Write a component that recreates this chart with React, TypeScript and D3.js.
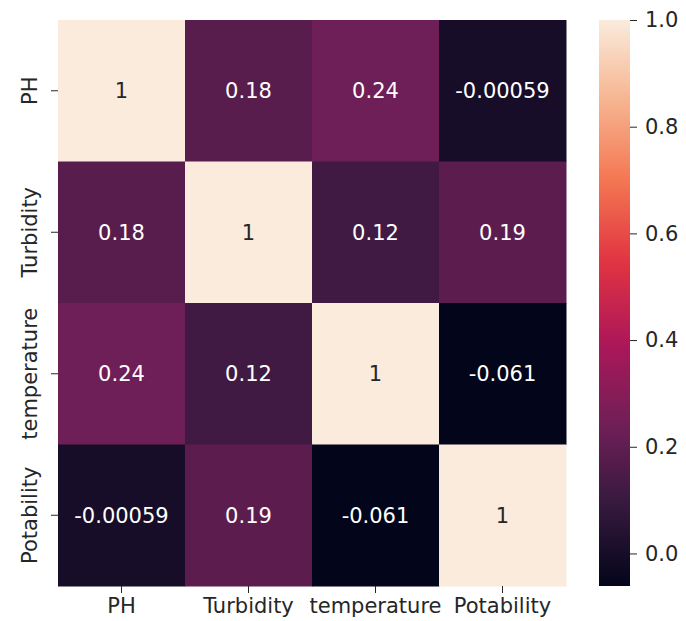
import React, { useRef, useEffect } from 'react';
import * as d3 from 'd3';

// variables in the correlation matrix
const labels = ['PH', 'Turbidity', 'temperature', 'Potability'];

// one row per variable
const rowPH = [1, 0.18, 0.24, -0.00059];
const rowTurbidity = [0.18, 1, 0.12, 0.19];
const rowTemperature = [0.24, 0.12, 1, -0.061];
const rowPotability = [-0.00059, 0.19, -0.061, 1];
const rows = [rowPH, rowTurbidity, rowTemperature, rowPotability];

const colorbarTicks = [0, 0.2, 0.4, 0.6, 0.8, 1.0];

// seaborn "rocket" colormap, sampled
const rocketStops = ['#03051a', '#35193e', '#701f57', '#ad1759', '#e13342', '#f37651', '#f6b48f', '#faebdd'];

export default function App() {
  const svgRef = useRef<SVGSVGElement | null>(null);

  useEffect(() => {
    if (!svgRef.current) return;
    const width = 686;
    const height = 621;
    const margin = { top: 20, left: 58 };
    const innerW = 508;
    const innerH = 566;
    const font = '"DejaVu Sans", sans-serif';
    const fs = 21;

    const svg = d3.select(svgRef.current);
    svg.selectAll('*').remove();
    svg.attr('width', width).attr('height', height);

    const values = rows.flat();
    const vmin = d3.min(values) as number;
    const vmax = d3.max(values) as number;

    const rocket = d3
      .scaleLinear<string>()
      .domain(rocketStops.map((_, i) => i / (rocketStops.length - 1)))
      .range(rocketStops)
      .interpolate(d3.interpolateRgb);
    const color = (v: number) => rocket((v - vmin) / (vmax - vmin));

    const x = d3.scaleBand().domain(labels).range([0, innerW]);
    const y = d3.scaleBand().domain(labels).range([0, innerH]);

    const g = svg.append('g').attr('transform', `translate(${margin.left},${margin.top})`);

    const cells = rows.flatMap((r, i) => r.map((v, j) => ({ row: labels[i], col: labels[j], v })));

    g.selectAll('rect.cell')
      .data(cells)
      .join('rect')
      .attr('class', 'cell')
      .attr('x', (d) => x(d.col) as number)
      .attr('y', (d) => y(d.row) as number)
      .attr('width', x.bandwidth() + 0.5)
      .attr('height', y.bandwidth() + 0.5)
      .attr('fill', (d) => color(d.v));

    // same rule seaborn uses to pick dark or light annotation text
    const lum = (c: string) => {
      const rgb = d3.rgb(c);
      const f = (u: number) => {
        const s = u / 255;
        return s <= 0.03928 ? s / 12.92 : Math.pow((s + 0.055) / 1.055, 2.4);
      };
      return 0.2126 * f(rgb.r) + 0.7152 * f(rgb.g) + 0.0722 * f(rgb.b);
    };

    g.selectAll('text.annot')
      .data(cells)
      .join('text')
      .attr('class', 'annot')
      .attr('x', (d) => (x(d.col) as number) + x.bandwidth() / 2)
      .attr('y', (d) => (y(d.row) as number) + y.bandwidth() / 2)
      .attr('dy', '0.36em')
      .attr('text-anchor', 'middle')
      .attr('font-family', font)
      .attr('font-size', fs)
      .attr('fill', (d) => (lum(color(d.v)) > 0.408 ? '#262626' : '#ffffff'))
      .text((d) => String(d.v));

    // x axis
    const xAxis = g
      .append('g')
      .attr('transform', `translate(0,${innerH})`)
      .call(d3.axisBottom(x).tickSize(7).tickPadding(5));
    xAxis.select('.domain').remove();
    xAxis.selectAll('line').attr('stroke', '#262626').attr('stroke-width', 1);
    xAxis.selectAll('text').attr('fill', '#262626').attr('font-size', fs).attr('font-family', font);

    // y axis, labels vertical
    const yAxis = g.append('g').call(d3.axisLeft(y).tickSize(7).tickPadding(5));
    yAxis.select('.domain').remove();
    yAxis.selectAll('line').attr('stroke', '#262626').attr('stroke-width', 1);
    yAxis
      .selectAll('text')
      .attr('fill', '#262626')
      .attr('font-size', fs)
      .attr('font-family', font)
      .attr('text-anchor', 'middle')
      .attr('dy', 0)
      .attr('x', -21)
      .attr('transform', 'rotate(-90,-21,0)');

    // colorbar
    const cbX = 599;
    const cbW = 31;
    const cbScale = d3.scaleLinear().domain([vmin, vmax]).range([margin.top + innerH, margin.top]);

    const grad = svg
      .append('defs')
      .append('linearGradient')
      .attr('id', 'rocket-grad')
      .attr('x1', '0%')
      .attr('y1', '100%')
      .attr('x2', '0%')
      .attr('y2', '0%');
    d3.range(0, 1.0001, 0.02).forEach((t) => {
      grad.append('stop').attr('offset', `${t * 100}%`).attr('stop-color', rocket(t));
    });

    svg
      .append('rect')
      .attr('x', cbX)
      .attr('y', margin.top)
      .attr('width', cbW)
      .attr('height', innerH)
      .attr('fill', 'url(#rocket-grad)');

    const cbAxis = svg
      .append('g')
      .attr('transform', `translate(${cbX + cbW},0)`)
      .call(d3.axisRight(cbScale).tickValues(colorbarTicks).tickFormat(d3.format('.1f')).tickSize(7).tickPadding(8));
    cbAxis.select('.domain').remove();
    cbAxis.selectAll('line').attr('stroke', '#262626').attr('stroke-width', 1);
    cbAxis.selectAll('text').attr('fill', '#262626').attr('font-size', fs).attr('font-family', font);
  }, []);

  return (
    <div style={{ position: 'absolute', left: 0, top: 0, background: '#fff' }}>
      <svg ref={svgRef} style={{ display: 'block' }} />
    </div>
  );
}
